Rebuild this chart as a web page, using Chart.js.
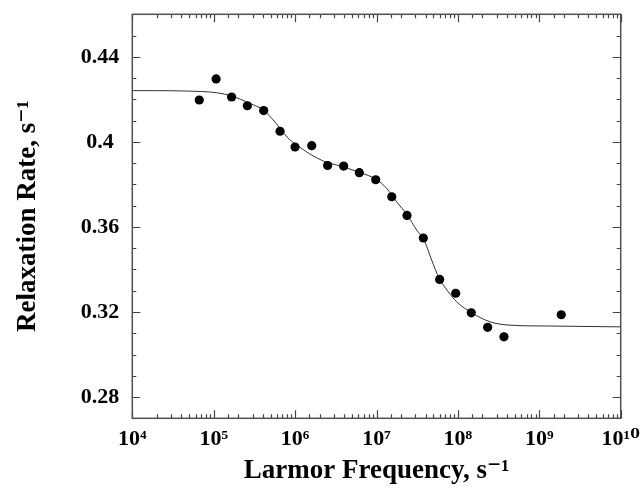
<!DOCTYPE html>
<html>
<head>
<meta charset="utf-8">
<script src="https://cdn.jsdelivr.net/npm/chart.js@4/dist/chart.umd.min.js"></script>
<style>
  html, body { margin: 0; padding: 0; background: #ffffff; }
  #wrap { width: 640px; height: 489px; }
</style>
</head>
<body>
<div id="wrap"><canvas id="c" width="640" height="489"></canvas></div>
<script>
// Measured points: Larmor frequency (s^-1) and relaxation rate (s^-1)
const freq = [6.65e4, 1.07e5, 1.66e5, 2.59e5, 4.11e5, 6.53e5, 9.98e5, 1.6e6, 2.51e6, 3.95e6, 6.15e6, 9.78e6, 1.54e7, 2.37e7, 3.76e7, 5.97e7, 9.4e7, 1.46e8, 2.32e8, 3.68e8, 1.86e9];
const rate = [0.4197, 0.4296, 0.4211, 0.4170, 0.4147, 0.4050, 0.3976, 0.3982, 0.3889, 0.3886, 0.3855, 0.3822, 0.3742, 0.3654, 0.3548, 0.3353, 0.3288, 0.3196, 0.3128, 0.3083, 0.3187];

// Fitted curve
const fitFreq = [1e4, 1.65e4, 4.66e4, 1.09e5, 1.66e5, 2.79e5, 4.06e5, 5.16e5, 6.53e5, 8.24e5, 1.05e6, 1.52e6, 2.22e6, 3.24e6, 4.72e6, 6.27e6, 9.86e6, 1.33e7, 1.77e7, 2.39e7, 3.12e7, 3.84e7, 4.76e7, 5.9e7, 7.62e7, 9.66e7, 1.48e8, 2.48e8, 4.37e8, 1.35e9, 1e10];
const fitRate = [0.4241, 0.4241, 0.4239, 0.4231, 0.4216, 0.4181, 0.4150, 0.4111, 0.4064, 0.4017, 0.3985, 0.3943, 0.3910, 0.3891, 0.3872, 0.3856, 0.3824, 0.3782, 0.3718, 0.3656, 0.3585, 0.3538, 0.3444, 0.3358, 0.3295, 0.3248, 0.3196, 0.3154, 0.3138, 0.3134, 0.3130];

// Tick labels
const xTickValues = [1e4, 1e5, 1e6, 1e7, 1e8, 1e9, 1e10];
const xTickLabels = ['10\u2074', '10\u2075', '10\u2076', '10\u2077', '10\u2078', '10\u2079', '10\u00B9\u2070'];
const yTickValues = [0.28, 0.32, 0.36, 0.40, 0.44];
const yTickLabels = ['0.28', '0.32', '0.36', '0.4', '0.44'];

const xTitle = 'Larmor Frequency, s\u207B\u00B9';
const yTitle = 'Relaxation Rate, s\u207B\u00B9';

const SERIF = "'Liberation Serif', 'DejaVu Serif', serif";

function isPow10(v) {
  const l = Math.log10(v);
  return Math.abs(l - Math.round(l)) < 1e-9;
}

const frameTicks = {
  id: 'frameTicks',
  beforeDatasetsDraw(chart) {
    const { ctx, chartArea: a, scales } = chart;
    const xs = scales.x, ys = scales.y;
    ctx.save();
    ctx.strokeStyle = '#444444';
    ctx.lineWidth = 1.2;
    xs.ticks.forEach(t => {
      const px = Math.round(xs.getPixelForValue(t.value)) + 0.5;
      if (px < a.left - 1 || px > a.right + 1) return;
      const len = isPow10(t.value) ? 8 : 4;
      ctx.beginPath();
      ctx.moveTo(px, a.bottom); ctx.lineTo(px, a.bottom - len);
      ctx.moveTo(px, a.top); ctx.lineTo(px, a.top + len);
      ctx.stroke();
    });
    ys.ticks.forEach(t => {
      const py = Math.round(ys.getPixelForValue(t.value)) + 0.5;
      const major = yTickValues.some(v => Math.abs(v - t.value) < 1e-6);
      const len = major ? 8 : 4;
      ctx.beginPath();
      ctx.moveTo(a.left, py); ctx.lineTo(a.left + len, py);
      ctx.moveTo(a.right, py); ctx.lineTo(a.right - len, py);
      ctx.stroke();
    });
    ctx.lineWidth = 1.5;
    ctx.strokeStyle = '#505050';
    ctx.strokeRect(a.left, a.top, a.right - a.left, a.bottom - a.top);
    ctx.restore();
  }
};

const points = freq.map((f, i) => ({ x: f, y: rate[i] }));
const fit = fitFreq.map((f, i) => ({ x: f, y: fitRate[i] }));

new Chart(document.getElementById('c'), {
  type: 'scatter',
  data: {
    datasets: [
      {
        label: 'fit',
        data: fit,
        showLine: true,
        borderColor: '#333333',
        borderWidth: 1,
        pointRadius: 0,
        cubicInterpolationMode: 'monotone',
        fill: false,
        order: 2
      },
      {
        label: 'data',
        data: points,
        pointRadius: 4.6,
        pointBackgroundColor: '#000000',
        pointBorderColor: '#000000',
        pointBorderWidth: 0,
        showLine: false,
        order: 1
      }
    ]
  },
  options: {
    responsive: false,
    animation: false,
    devicePixelRatio: 1,
    layout: { padding: { left: 0, right: 19.3, top: 14.3, bottom: 0 } },
    plugins: { legend: { display: false }, tooltip: { enabled: false } },
    scales: {
      x: {
        type: 'logarithmic',
        min: 1e4,
        max: 1e10,
        grid: { display: false, drawTicks: false },
        border: { display: false },
        afterFit(s) { s.height = 70.7; s.paddingLeft = 0; s.paddingRight = 0; },
        ticks: {
          autoSkip: false,
          maxRotation: 0,
          minRotation: 0,
          padding: 8,
          color: '#000000',
          font: { family: SERIF, size: 22, weight: 'bold' },
          callback(v) {
            const i = xTickValues.findIndex(t => Math.abs(Math.log10(t) - Math.log10(v)) < 1e-9);
            return i >= 0 ? xTickLabels[i] : '';
          }
        },
        title: {
          display: true,
          text: xTitle,
          color: '#000000',
          font: { family: SERIF, size: 27, weight: 'bold' },
          padding: { top: 0, bottom: 2 }
        }
      },
      y: {
        type: 'linear',
        min: 0.27,
        max: 0.46,
        grid: { display: false, drawTicks: false },
        border: { display: false },
        afterFit(s) { s.width = 132.3; s.paddingTop = 0; s.paddingBottom = 0; },
        ticks: {
          stepSize: 0.01,
          autoSkip: false,
          crossAlign: 'center',
          padding: 13,
          color: '#000000',
          font: { family: SERIF, size: 22, weight: 'bold' },
          callback(v) {
            const i = yTickValues.findIndex(t => Math.abs(t - v) < 1e-6);
            return i >= 0 ? yTickLabels[i] : '';
          }
        },
        title: {
          display: true,
          text: yTitle,
          color: '#000000',
          font: { family: SERIF, size: 27, weight: 'bold' },
          padding: { top: 12, bottom: 0 }
        }
      }
    }
  },
  plugins: [frameTicks]
});
</script>
</body>
</html>
